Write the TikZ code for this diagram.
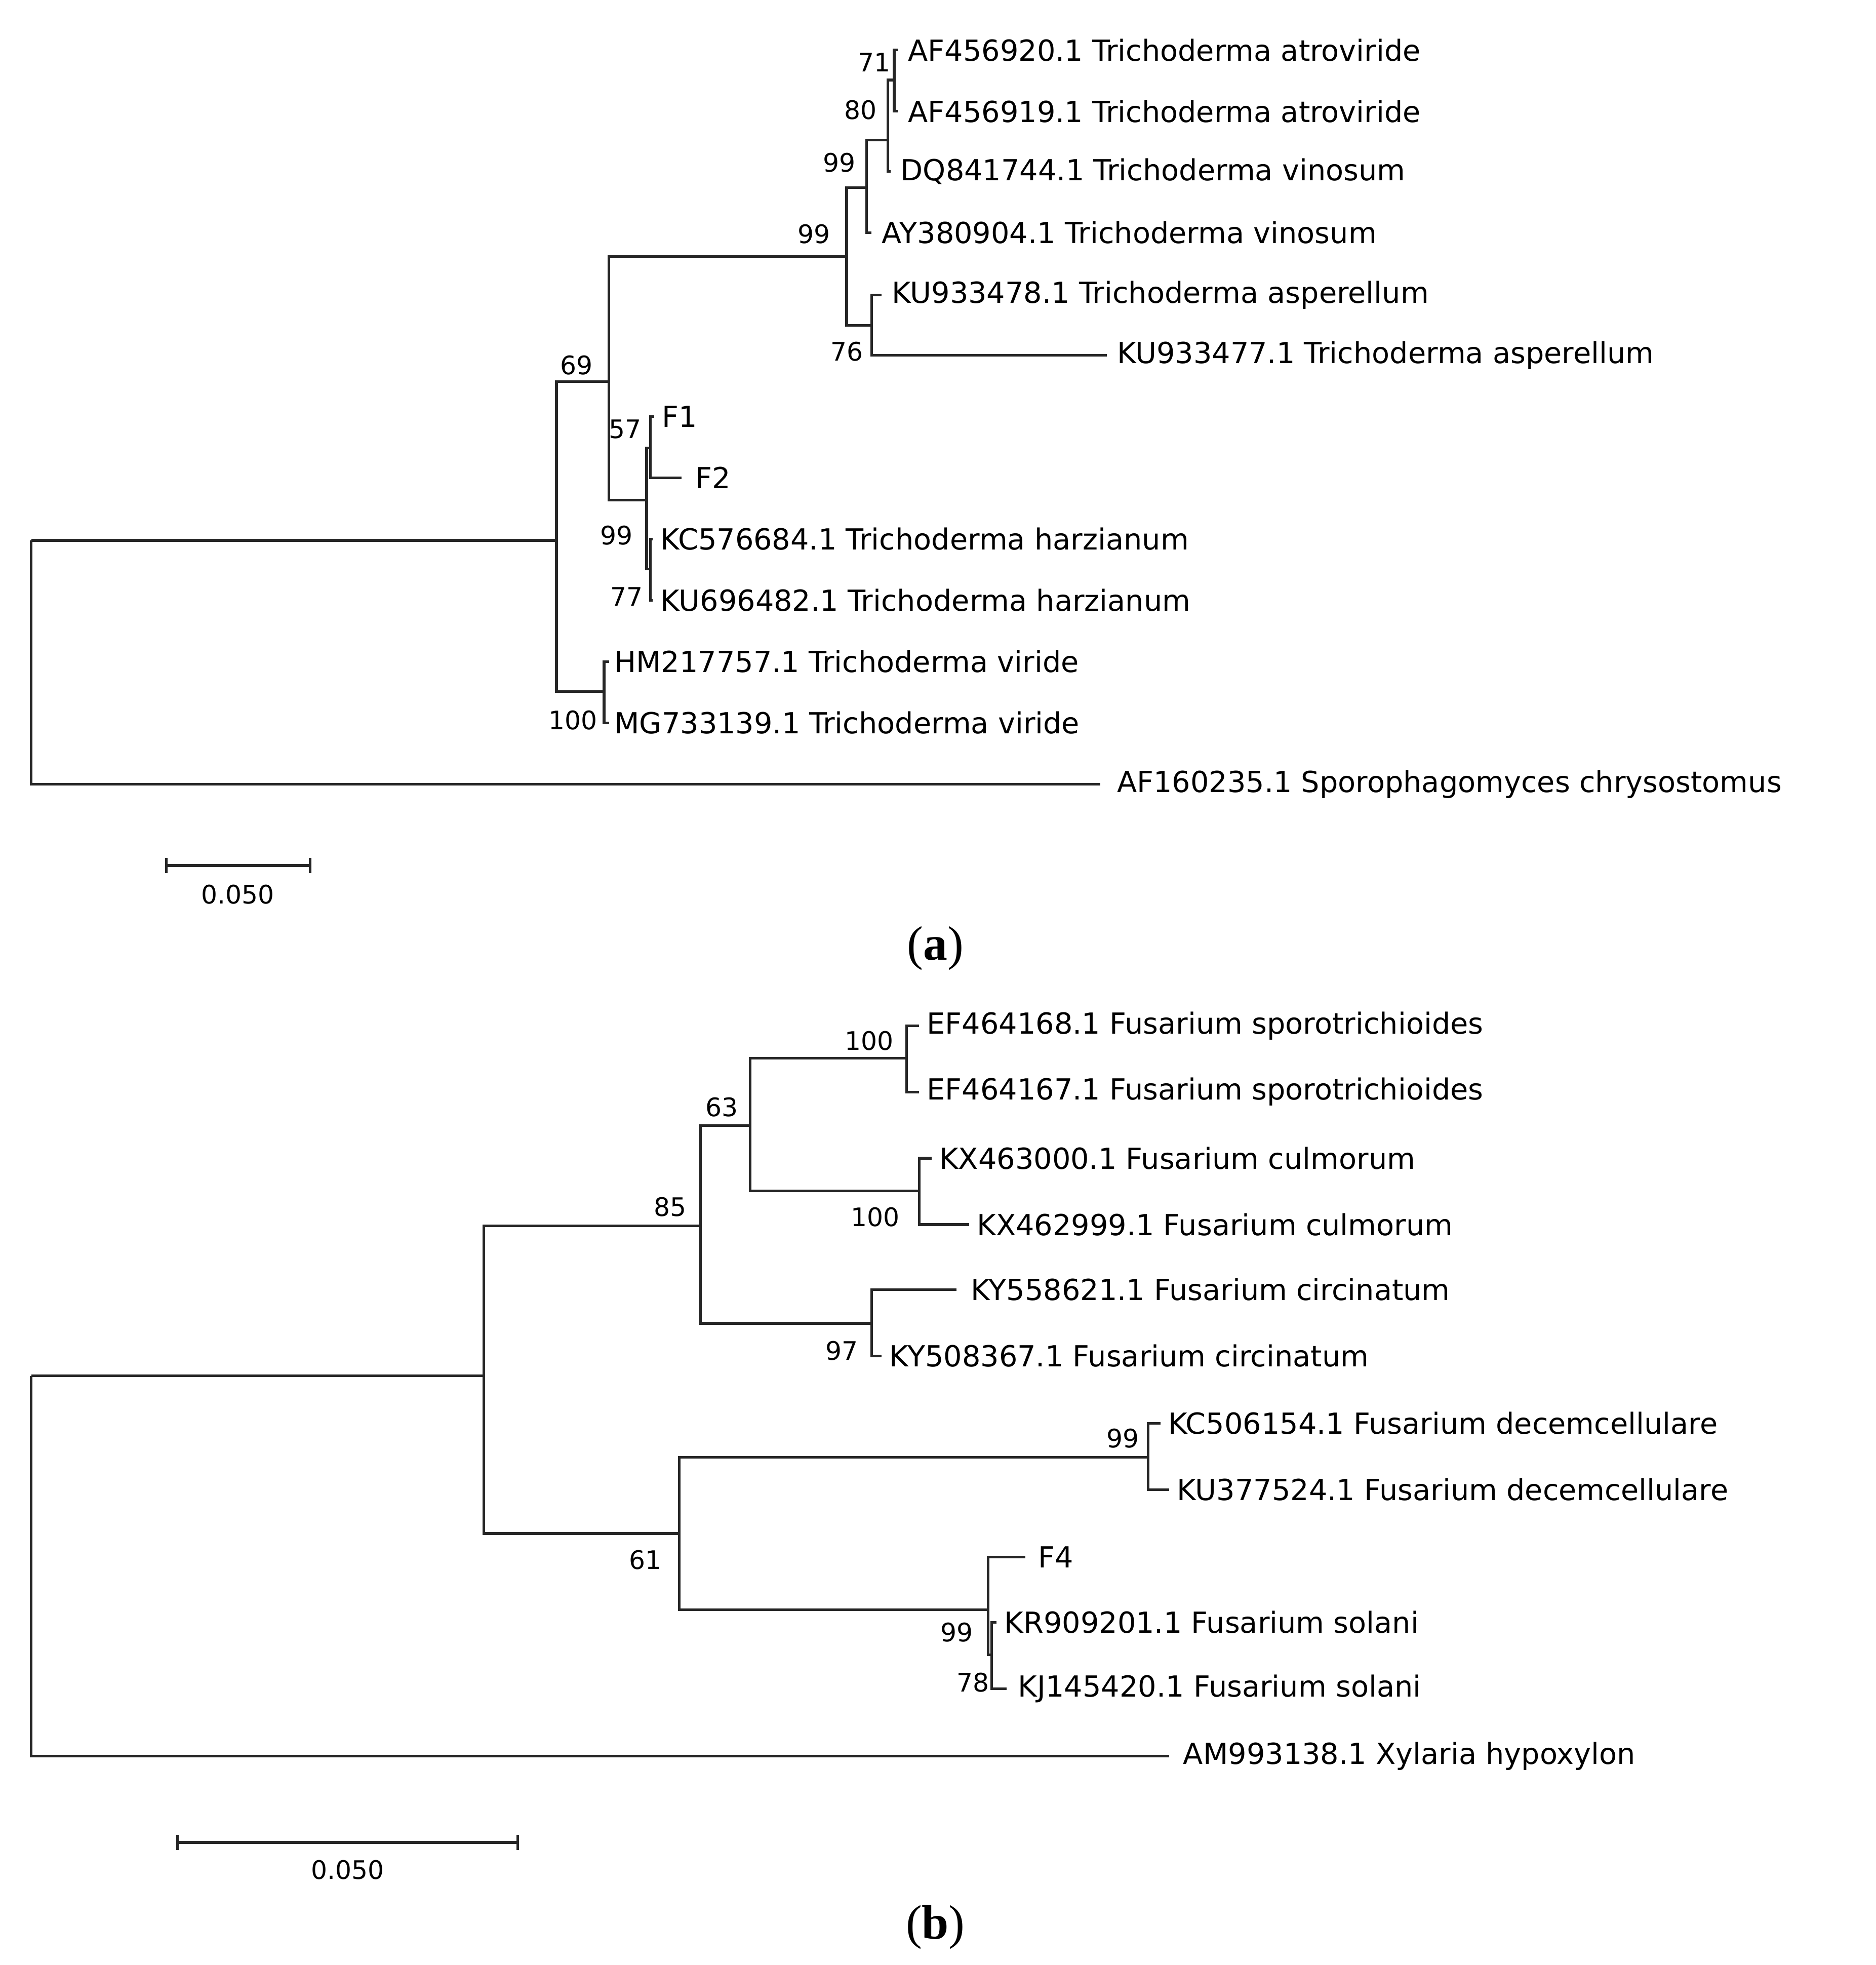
\documentclass[tikz,border=0pt]{standalone}
\usepackage{fontspec}
\setmainfont{Liberation Serif}
\newfontfamily\treefont{DejaVu Sans}
\begin{document}
\begin{tikzpicture}[x=0.01cm,y=-0.01cm,
  br/.style={line width=0.6pt,black!85},
  lf/.style={anchor=west,font=\treefont\fontsize{6.6}{8}\selectfont,inner sep=1pt},
  bs/.style={font=\treefont\fontsize{5.8}{7}\selectfont,inner sep=0pt},
  figcap/.style={font=\fontsize{11}{13}\selectfont}]
\useasboundingbox (0,0) rectangle (1500,1571);
% ---------- tree a ----------
\draw[br] (25,432) -- (25,627) -- (880,627);
\draw[br] (25,432) -- (445,432);
\draw[br] (483,553) -- (445,553) -- (445,305) -- (487,305);
\draw[br] (677,205) -- (487,205) -- (487,400) -- (517,400);
\draw[br] (520,358) -- (517,358) -- (517,455) -- (520,455);
\draw[br] (523,333) -- (520,333) -- (520,382) -- (545,382);
\draw[br] (522,431) -- (520,431) -- (520,480) -- (522,480);
\draw[br] (487,529) -- (483,529) -- (483,578) -- (487,578);
\draw[br] (693,150) -- (677,150) -- (677,260) -- (697,260);
\draw[br] (710,112) -- (693,112) -- (693,186) -- (697,186);
\draw[br] (715,64) -- (710,64) -- (710,137) -- (712,137);
\draw[br] (718,40) -- (715,40) -- (715,89) -- (718,89);
\draw[br] (705,236) -- (697,236) -- (697,284) -- (885,284);
\node[lf] (a1) at (722,40) {AF456920.1 Trichoderma atroviride};
\node[lf] (a2) at (722,89) {AF456919.1 Trichoderma atroviride};
\node[lf] (a3) at (716,137) {DQ841744.1 Trichoderma vinosum};
\node[lf] (a4) at (701,186) {AY380904.1 Trichoderma vinosum};
\node[lf] (a5) at (709,236) {KU933478.1 Trichoderma asperellum};
\node[lf] (a6) at (889,284) {KU933477.1 Trichoderma asperellum};
\node[lf] (a7) at (525,333) {F1};
\node[lf] (a8) at (552,382) {F2};
\node[lf] (a9) at (524,431) {KC576684.1 Trichoderma harzianum};
\node[lf] (a10) at (524,480) {KU696482.1 Trichoderma harzianum};
\node[lf] (a11) at (487,529) {HM217757.1 Trichoderma viride};
\node[lf] (a12) at (487,578) {MG733139.1 Trichoderma viride};
\node[lf] (a13) at (889,627) {AF160235.1 Sporophagomyces chrysostomus};
\node[bs] (b1) at (699,50) {71};
\node[bs] (b2) at (688,88) {80};
\node[bs] (b3) at (671,130) {99};
\node[bs] (b4) at (651,187) {99};
\node[bs] (b5) at (677,281) {76};
\node[bs] (b6) at (461,292) {69};
\node[bs] (b7) at (500,343) {57};
\node[bs] (b8) at (493,428) {99};
\node[bs] (b9) at (501,477) {77};
\node[bs] (b10) at (458,576) {100};
\draw[br] (133,686) -- (133,698); \draw[br] (248,686) -- (248,698);
\draw[br] (133,692) -- (248,692);
\node[bs] (sa) at (190,715) {0.050};
\node[figcap] (ca) at (748,758) {(\textbf{a})};
% ---------- tree b ----------
\draw[br] (25,1100) -- (25,1404) -- (935,1404);
\draw[br] (25,1100) -- (387,1100);
\draw[br] (560,980) -- (387,980) -- (387,1226) -- (543,1226);
\draw[br] (600,900) -- (560,900) -- (560,1058) -- (697,1058);
\draw[br] (725,846) -- (600,846) -- (600,952) -- (735,952);
\draw[br] (735,820) -- (725,820) -- (725,873) -- (735,873);
\draw[br] (745,926) -- (735,926) -- (735,979) -- (775,979);
\draw[br] (765,1031) -- (697,1031) -- (697,1084) -- (705,1084);
\draw[br] (918,1165) -- (543,1165) -- (543,1287) -- (790,1287);
\draw[br] (928,1138) -- (918,1138) -- (918,1191) -- (935,1191);
\draw[br] (820,1245) -- (790,1245) -- (790,1323) -- (793,1323);
\draw[br] (797,1297) -- (793,1297) -- (793,1350) -- (805,1350);
\node[lf] (c1) at (737,820) {EF464168.1 Fusarium sporotrichioides};
\node[lf] (c2) at (737,873) {EF464167.1 Fusarium sporotrichioides};
\node[lf] (c3) at (747,926) {KX463000.1 Fusarium culmorum};
\node[lf] (c4) at (777,979) {KX462999.1 Fusarium culmorum};
\node[lf] (c5) at (772,1031) {KY558621.1 Fusarium circinatum};
\node[lf] (c6) at (707,1084) {KY508367.1 Fusarium circinatum};
\node[lf] (c7) at (930,1138) {KC506154.1 Fusarium decemcellulare};
\node[lf] (c8) at (937,1191) {KU377524.1 Fusarium decemcellulare};
\node[lf] (c9) at (826,1245) {F4};
\node[lf] (c10) at (799,1297) {KR909201.1 Fusarium solani};
\node[lf] (c11) at (810,1350) {KJ145420.1 Fusarium solani};
\node[lf] (c12) at (942,1404) {AM993138.1 Xylaria hypoxylon};
\node[bs] (d1) at (695,832) {100};
\node[bs] (d2) at (577,885) {63};
\node[bs] (d3) at (700,973) {100};
\node[bs] (d4) at (536,965) {85};
\node[bs] (d5) at (673,1080) {97};
\node[bs] (d6) at (898,1150) {99};
\node[bs] (d7) at (516,1247) {61};
\node[bs] (d8) at (765,1305) {99};
\node[bs] (d9) at (778,1345) {78};
\draw[br] (142,1467) -- (142,1479); \draw[br] (414,1467) -- (414,1479);
\draw[br] (142,1473) -- (414,1473);
\node[bs] (sb) at (278,1495) {0.050};
\node[figcap] (cb) at (748,1541) {(\textbf{b})};
\end{tikzpicture}
\end{document}
